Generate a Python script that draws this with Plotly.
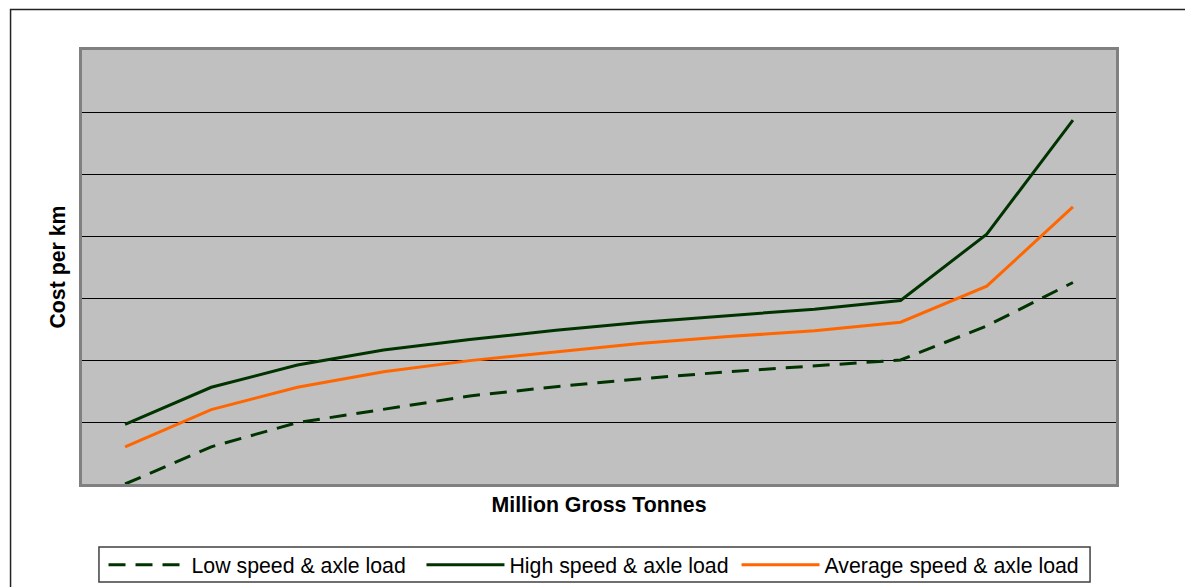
import plotly.graph_objects as go

# Traffic bands (million gross tonnes) along the horizontal axis
mgt_bands = ["1", "2", "3", "4", "5", "6", "7", "8", "9", "10", "11", "12"]

# Track cost per km for each operating regime
low_speed_axle = [0.0, 0.60, 0.99, 1.21, 1.42, 1.57, 1.70, 1.81, 1.90, 2.00, 2.55, 3.25]
high_speed_axle = [0.96, 1.56, 1.92, 2.16, 2.33, 2.48, 2.61, 2.71, 2.82, 2.96, 4.03, 5.87]
average_speed_axle = [0.60, 1.20, 1.56, 1.81, 1.99, 2.13, 2.27, 2.38, 2.47, 2.61, 3.19, 4.47]

DARK_GREEN = "#003300"
ORANGE = "#FF6600"
FONT = "Liberation Sans, Arial, sans-serif"
FONT_SIZE = 21.3

fig = go.Figure()
fig.add_trace(go.Scatter(
    x=mgt_bands, y=low_speed_axle, mode="lines", name="Low speed & axle load",
    legend="legend",
    line=dict(color=DARK_GREEN, width=3, dash="17px,10px"),
))
fig.add_trace(go.Scatter(
    x=mgt_bands, y=high_speed_axle, mode="lines", name="High speed & axle load",
    legend="legend2",
    line=dict(color=DARK_GREEN, width=3),
))
fig.add_trace(go.Scatter(
    x=mgt_bands, y=average_speed_axle, mode="lines", name="Average speed & axle load",
    legend="legend3",
    line=dict(color=ORANGE, width=3),
))

# Outer chart frame
fig.add_shape(
    type="rect", xref="paper", yref="paper",
    x0=-0.0691, x1=1.2, y0=-0.4, y1=1.0933,
    line=dict(color="#222222", width=1.5), fillcolor="rgba(0,0,0,0)", layer="below",
)
# Box framing the legend row
fig.add_shape(
    type="rect", xref="paper", yref="paper",
    x0=0.0164, x1=0.9749, y0=-0.2258, y1=-0.1452,
    line=dict(color="#404040", width=1.5), fillcolor="white", layer="below",
)


def legend_at(x):
    return dict(
        orientation="h",
        x=x, xanchor="left",
        y=-0.1866, yanchor="middle",
        borderwidth=0,
        bgcolor="rgba(0,0,0,0)",
        font=dict(family=FONT, size=FONT_SIZE, color="black"),
        itemwidth=78,
    )


fig.update_layout(
    width=1185, height=587,
    margin=dict(l=82, r=69, t=50, b=103, autoexpand=False),
    paper_bgcolor="white",
    plot_bgcolor="#C0C0C0",
    font=dict(family=FONT, size=FONT_SIZE, color="black"),
    showlegend=True,
    legend=legend_at(0.0208),
    legend2=legend_at(0.3283),
    legend3=legend_at(0.6330),
    xaxis=dict(
        type="category",
        range=[-0.5, 11.5],
        showticklabels=False, ticks="",
        showgrid=False, zeroline=False,
        showline=True, linecolor="#808080", linewidth=2.5, mirror=True,
        title=dict(text="Million Gross Tonnes", standoff=12,
                   font=dict(family=FONT, size=FONT_SIZE, weight="bold")),
    ),
    yaxis=dict(
        range=[0, 7],
        dtick=1,
        showticklabels=False, ticks="",
        showgrid=True, gridcolor="black", gridwidth=1,
        zeroline=False,
        showline=True, linecolor="#808080", linewidth=2.5, mirror=True,
        title=dict(text="Cost per km", standoff=8,
                   font=dict(family=FONT, size=FONT_SIZE, weight="bold")),
    ),
)

fig.write_html("out.html")
